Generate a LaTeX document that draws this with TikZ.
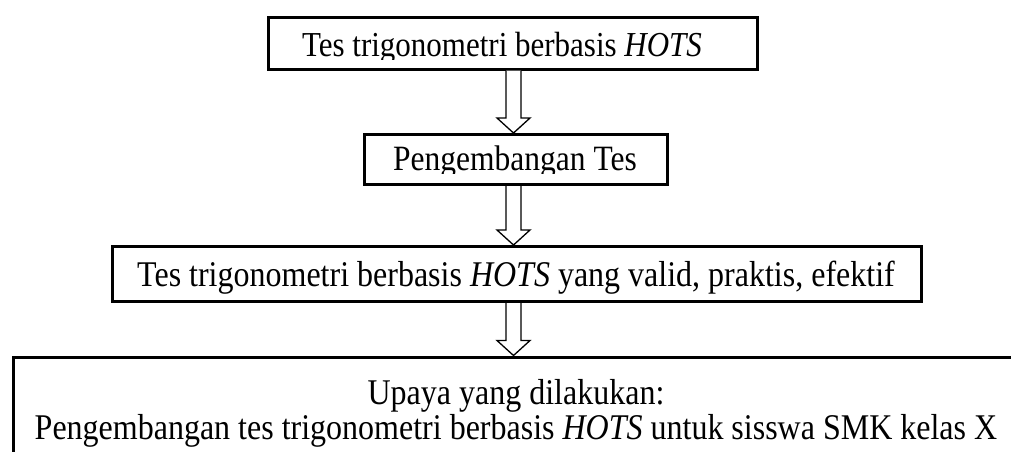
\documentclass[tikz,border=0pt]{standalone}
\usepackage{fontspec}
\setmainfont{Liberation Serif}
\usetikzlibrary{calc}
\newcommand\tall[1]{\scalebox{1}[1.13]{#1}}
\tikzset{
  box/.style={draw=black, line width=3pt, inner sep=0pt},
  lbl/.style={anchor=base, inner sep=0pt, outer sep=0pt, font=\fontsize{32}{35}\selectfont},
  arrowline/.style={draw=black, line width=1.3pt, fill=white, line join=miter},
}
\newcommand\blockarrow[2]{%
  \draw[arrowline] ($(#1)+(-7.5,0)$) -- ($(#2)+(-7.5,-15)$) -- ($(#2)+(-16.5,-15)$)
    -- (#2) -- ($(#2)+(16.5,-15)$) -- ($(#2)+(7.5,-15)$) -- ($(#1)+(7.5,0)$);}
\begin{document}
\begin{tikzpicture}[x=1pt,y=-1pt]
\useasboundingbox (0,0) rectangle (1011,451);
\clip (0,0) rectangle (1011,451);
\coordinate (ax) at (513.5,0);
% boxes
\node[box, minimum width=489pt, minimum height=52pt] (b1) at (512.5,43) {};
\node[box, minimum width=303pt, minimum height=50pt] (b2) at (516,159.5) {};
\node[box, minimum width=809pt, minimum height=55pt] (b3) at (517,274) {};
\node[box, anchor=north west, minimum width=1040pt, minimum height=150pt] (b4) at (12,355.5) {};
% texts
\begin{scope}
  \clip (b1.north west) rectangle ($(b1.south east)+(0,-11.5)$);
  \node[lbl, font=\fontsize{31}{35}\selectfont] (t1) at (502,56) {\tall{Tes trigonometri berbasis \textit{HOTS}}};
\end{scope}
\begin{scope}
  \clip (b2.north west) rectangle ($(b2.south east)+(0,-12.5)$);
  \node[lbl, font=\fontsize{31.5}{35}\selectfont] (t2) at (515,170) {\tall{Pengembangan Tes}};
\end{scope}
\node[lbl] (t3) at (516,286) {\tall{Tes trigonometri berbasis \textit{HOTS} yang valid, praktis, efektif}};
\node[lbl] (t4a) at (516,404) {\tall{Upaya yang dilakukan:}};
\node[lbl] (t4b) at (516,439) {\tall{Pengembangan tes trigonometri berbasis \textit{HOTS} untuk sisswa SMK kelas X}};
% arrows
\coordinate (a1s) at (b1.south -| ax);
\coordinate (a1e) at (b2.north -| ax);
\coordinate (a2s) at (b2.south -| ax);
\coordinate (a2e) at (b3.north -| ax);
\coordinate (a3s) at (b3.south -| ax);
\coordinate (a3e) at (b4.north -| ax);
\blockarrow{a1s}{a1e}
\blockarrow{a2s}{a2e}
\blockarrow{a3s}{a3e}
\end{tikzpicture}
\end{document}
